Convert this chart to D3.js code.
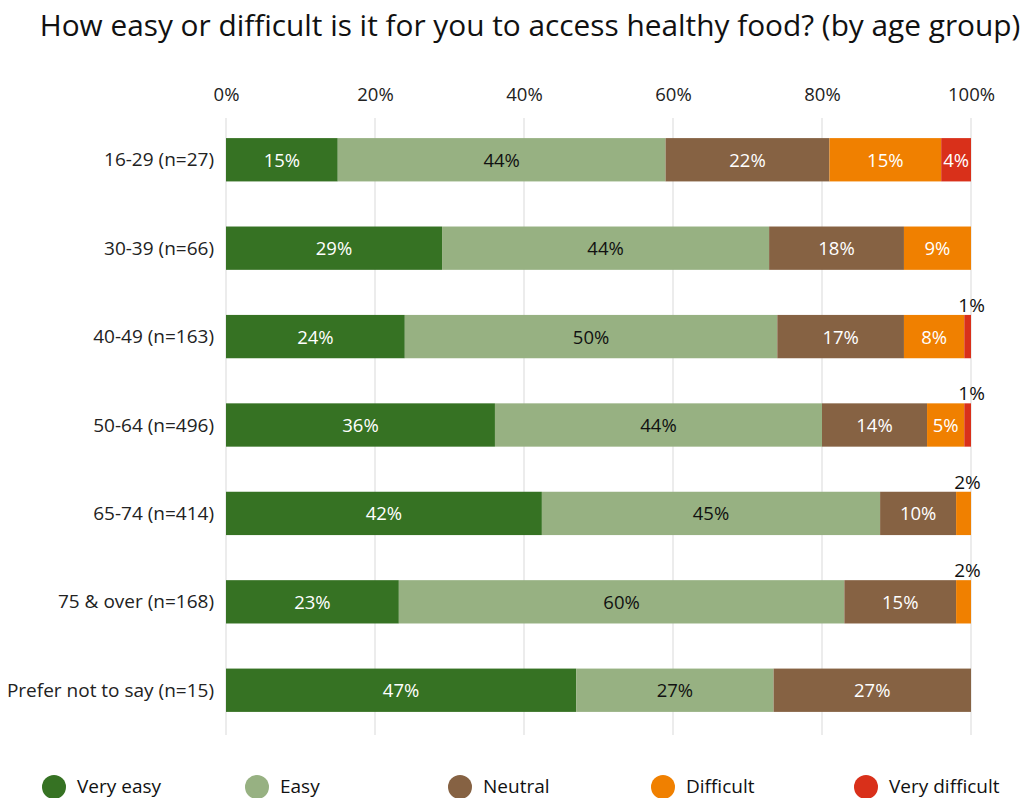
<!DOCTYPE html>
<html>
<head>
<meta charset="utf-8">
<style>
  body { margin: 0; background: #fff; }
  svg text { font-family: "Open Sans", "Noto Sans", sans-serif; }
</style>
<script src="https://cdn.jsdelivr.net/npm/d3@7"></script>
</head>
<body>
<div id="chart"></div>
<script>
// age groups, top to bottom
var groups = ["16-29 (n=27)", "30-39 (n=66)", "40-49 (n=163)", "50-64 (n=496)",
              "65-74 (n=414)", "75 & over (n=168)", "Prefer not to say (n=15)"];
var answers = ["Very easy", "Easy", "Neutral", "Difficult", "Very difficult"];
var colors = ["#367223", "#97b182", "#866243", "#f08000", "#d9301a"];
var labelColors = ["#fff", "#111", "#fff", "#fff", "#fff"];

// percent share of each answer, one value per group
var veryEasy      = [15.0, 29.0, 24.0, 36.1, 42.4, 23.2, 47.0];
var easy          = [44.0, 43.9, 50.0, 43.9, 45.4, 59.8, 26.5];
var neutral       = [22.0, 18.1, 17.0, 14.1, 10.2, 15.0, 26.5];
var difficult     = [15.0,  9.0,  8.1,  5.0,  2.0,  2.0,  0];
var veryDifficult = [ 4.0,  0,    0.9,  0.9,  0,    0,    0];

var xTicks = [0, 20, 40, 60, 80, 100];

var width = 1023, height = 798;
var margin = {top: 116, right: 52, bottom: 62, left: 226};
var fontFamily = "'Open Sans', 'Noto Sans', sans-serif";

var svg = d3.select("#chart").append("svg")
  .attr("width", width)
  .attr("height", height);

var rows = groups.map(function(g, i) {
  return {group: g, "Very easy": veryEasy[i], "Easy": easy[i], "Neutral": neutral[i],
          "Difficult": difficult[i], "Very difficult": veryDifficult[i]};
});
var series = d3.stack().keys(answers)(rows);

var x = d3.scaleLinear().domain([0, 100]).range([margin.left, width - margin.right]);
var y = d3.scaleBand().domain(groups)
  .range([margin.top, height - margin.bottom - 2])
  .paddingInner(0.51).paddingOuter(0.25);

svg.append("text")
  .attr("x", 530).attr("y", 36)
  .attr("text-anchor", "middle")
  .attr("font-size", 29.8)
  .attr("fill", "#111")
  .text("How easy or difficult is it for you to access healthy food? (by age group)");

// gridlines
svg.append("g").selectAll("line")
  .data(xTicks).enter().append("line")
  .attr("x1", function(d) { return x(d); })
  .attr("x2", function(d) { return x(d); })
  .attr("y1", margin.top + 2)
  .attr("y2", height - margin.bottom - 1)
  .attr("stroke", "#e0e0e0")
  .attr("stroke-width", 1.2);

// top axis labels
var xAxis = svg.append("g")
  .attr("transform", "translate(0," + 101 + ")")
  .call(d3.axisTop(x).tickValues(xTicks).tickSize(0).tickPadding(0)
    .tickFormat(function(d) { return d + "%"; }));
xAxis.select(".domain").remove();
xAxis.selectAll("text").attr("font-size", 18.5).attr("fill", "#222")
  .style("font-family", fontFamily);

// category labels
var yAxis = svg.append("g")
  .attr("transform", "translate(" + (margin.left - 12) + ",0)")
  .call(d3.axisLeft(y).tickSize(0).tickPadding(0));
yAxis.select(".domain").remove();
yAxis.selectAll("text").attr("font-size", 19).attr("fill", "#222")
  .attr("dy", "0.35em")
  .style("font-family", fontFamily);

// bars
var layer = svg.append("g").selectAll("g")
  .data(series).enter().append("g")
  .attr("fill", function(d, i) { return colors[i]; });

layer.selectAll("rect")
  .data(function(d) { return d; })
  .enter().append("rect")
  .attr("x", function(d) { return x(d[0]); })
  .attr("y", function(d) { return y(d.data.group); })
  .attr("width", function(d) { return x(d[1]) - x(d[0]); })
  .attr("height", y.bandwidth());

// value labels
series.forEach(function(s, si) {
  s.forEach(function(d) {
    var v = d[1] - d[0];
    if (v <= 0) return;
    var w = x(d[1]) - x(d[0]);
    var cx = (x(d[0]) + x(d[1])) / 2;
    var small = w < 20;
    svg.append("text")
      .attr("x", small ? cx + 4 : cx)
      .attr("y", small ? y(d.data.group) - 3 : y(d.data.group) + y.bandwidth() / 2 + 7)
      .attr("text-anchor", "middle")
      .attr("font-size", small ? 19 : 18.5)
      .attr("fill", small ? "#111" : labelColors[si])
      .text(Math.round(v) + "%");
  });
});

// legend
var legendX = [54, 257, 460, 663, 866];
var legend = svg.append("g").selectAll("g")
  .data(answers).enter().append("g")
  .attr("transform", function(d, i) { return "translate(" + legendX[i] + ",787)"; });
legend.append("circle")
  .attr("r", 12)
  .attr("fill", function(d, i) { return colors[i]; });
legend.append("text")
  .attr("x", 23).attr("y", 5.5)
  .attr("font-size", 19)
  .attr("fill", "#111")
  .text(function(d) { return d; });
</script>
</body>
</html>
